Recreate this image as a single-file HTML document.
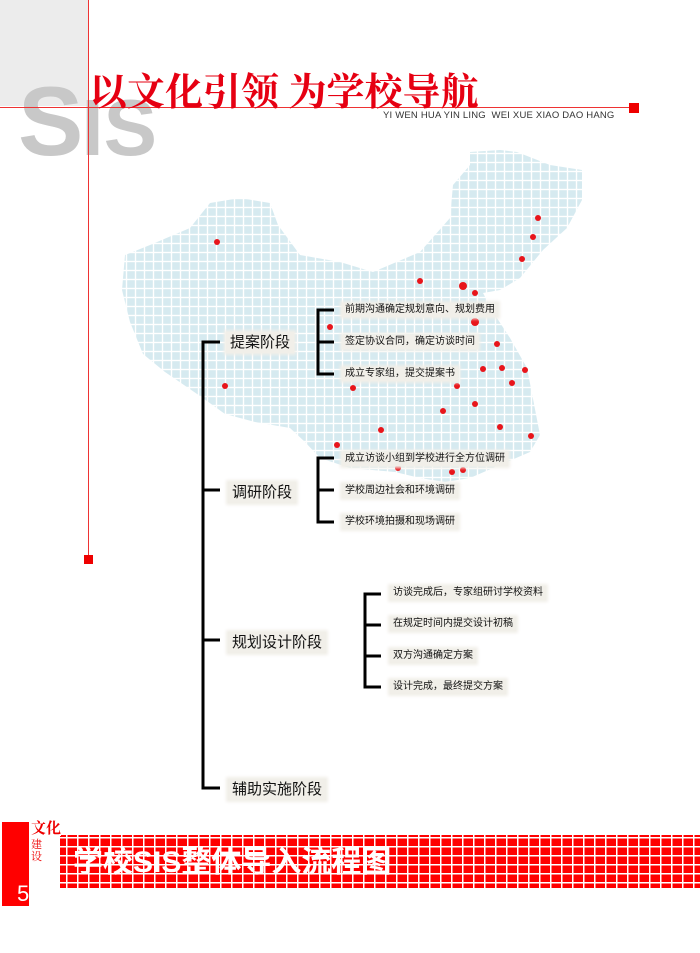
<!DOCTYPE html>
<html><head><meta charset="utf-8"><style>
body{margin:0;width:700px;height:953px;overflow:hidden;background:#fff;position:relative;font-family:"Liberation Sans","Noto Sans CJK SC",sans-serif}
.a{position:absolute}
.lb{position:absolute;background:#f1efe9;box-shadow:0 0 3px 2px #f1efe9;color:#111;white-space:nowrap;line-height:1}
.p{font-size:15px;padding:3px 4px}
.s{font-size:10px;padding:2px 3px}
</style></head><body>
<div class="a" style="left:0;top:0;width:88px;height:106px;background:#ececec"></div>
<div class="a" style="left:18px;top:66px;font:bold 98px 'Liberation Sans',sans-serif;color:#c8c8c8;letter-spacing:-2px;line-height:110px">S<span style="font-size:80px;letter-spacing:0">IS</span></div>
<div class="a" style="left:88px;top:0;width:1px;height:560px;background:#e33"></div>
<div class="a" style="left:84px;top:555px;width:9px;height:9px;background:#e00"></div>
<div class="a" style="left:0;top:107px;width:632px;height:1px;background:#e33"></div>
<div class="a" style="left:629px;top:103px;width:10px;height:10px;background:#e00"></div>
<div class="a" style="left:89px;top:68px;font:bold 38px 'Noto Serif CJK SC',serif;color:#e60012;letter-spacing:0px;line-height:42px;white-space:nowrap">以文化引领&nbsp;为学校导航</div>
<div class="a" style="left:383px;top:110px;font-size:9.5px;color:#333;letter-spacing:0.2px;white-space:nowrap">YI WEN HUA YIN LING &nbsp;WEI XUE XIAO DAO HANG</div>

<svg class="a" style="left:0;top:0" width="700" height="953">
<defs><pattern id="g" width="9" height="9" patternUnits="userSpaceOnUse"><rect width="9" height="9" fill="#fff"/><rect x="1.2" y="1.2" width="7.6" height="7.6" fill="#d6eaf0"/></pattern>
<pattern id="r" width="11" height="9" patternUnits="userSpaceOnUse"><rect width="11" height="9" fill="#fff"/><rect x="1.5" y="1.5" width="9.5" height="7.5" fill="#f00"/></pattern></defs>
<path fill="url(#g)" d="M125,255 L150,245 L190,228 L210,203 L240,198 L270,203 L278,225 L300,255 L340,262 L373,272 L420,252 L450,218 L453,185 L470,165 L470,152 L500,150 L517,152 L550,165 L582,170 L582,200 L567,228 L543,250 L520,278 L500,290 L483,293 L493,312 L510,338 L527,368 L540,435 L530,452 L500,465 L470,478 L445,482 L420,478 L395,472 L350,468 L320,458 L305,442 L290,428 L255,422 L225,414 L200,396 L165,372 L143,354 L130,322 L122,290 Z"/>
<g fill="#e8151b">
<circle cx="217" cy="242" r="3"/><circle cx="538" cy="218" r="3"/><circle cx="533" cy="237" r="3"/><circle cx="522" cy="259" r="3"/><circle cx="420" cy="281" r="3"/><circle cx="463" cy="286" r="4"/><circle cx="475" cy="293" r="3"/><circle cx="475" cy="322" r="4"/><circle cx="330" cy="327" r="3"/><circle cx="497" cy="344" r="3"/><circle cx="483" cy="369" r="3"/><circle cx="502" cy="368" r="3"/><circle cx="525" cy="370" r="3"/><circle cx="512" cy="383" r="3"/><circle cx="457" cy="386" r="3"/><circle cx="353" cy="388" r="3"/><circle cx="225" cy="386" r="3"/><circle cx="443" cy="411" r="3"/><circle cx="475" cy="404" r="3"/><circle cx="381" cy="430" r="3"/><circle cx="500" cy="427" r="3"/><circle cx="531" cy="436" r="3"/><circle cx="337" cy="445" r="3"/><circle cx="398" cy="468" r="3"/><circle cx="452" cy="472" r="3"/><circle cx="463" cy="470" r="3"/>
</g>
<g stroke="#000" stroke-width="3" fill="none">
<path d="M220,342 H203 V788 H220 M203,490 H220 M203,640 H220"/>
<path d="M334,310 H318 V374 H334 M318,342 H334"/>
<path d="M334,458 H318 V522 H334 M318,490 H334"/>
<path d="M381,594 H365 V687 H381 M365,625 H381 M365,656 H381"/>
</g>
<rect x="60" y="835" width="640" height="53" fill="url(#r)"/>
<rect x="2" y="822" width="27" height="84" fill="#f00"/>
</svg>

<div class="lb p" style="left:226px;top:332px">提案阶段</div>
<div class="lb p" style="left:228px;top:482px">调研阶段</div>
<div class="lb p" style="left:228px;top:632px">规划设计阶段</div>
<div class="lb p" style="left:228px;top:779px">辅助实施阶段</div>
<div class="lb s" style="left:342px;top:303px">前期沟通确定规划意向、规划费用</div>
<div class="lb s" style="left:342px;top:335px">签定协议合同，确定访谈时间</div>
<div class="lb s" style="left:342px;top:367px">成立专家组，提交提案书</div>
<div class="lb s" style="left:342px;top:452px">成立访谈小组到学校进行全方位调研</div>
<div class="lb s" style="left:342px;top:484px">学校周边社会和环境调研</div>
<div class="lb s" style="left:342px;top:515px">学校环境拍摄和现场调研</div>
<div class="lb s" style="left:390px;top:586px">访谈完成后，专家组研讨学校资料</div>
<div class="lb s" style="left:390px;top:617px">在规定时间内提交设计初稿</div>
<div class="lb s" style="left:390px;top:649px">双方沟通确定方案</div>
<div class="lb s" style="left:390px;top:680px">设计完成，最终提交方案</div>

<div class="a" style="left:31px;top:820px;font:bold 15px 'Noto Serif CJK SC',serif;color:#e00;line-height:16px;background:#fff">文化</div>
<div class="a" style="left:31px;top:838px;font:11px 'Noto Serif CJK SC',serif;color:#e00;line-height:12px;width:11px;background:#fff">建设</div>
<div class="a" style="left:17px;top:882px;font-size:22px;color:#fff;line-height:24px">5</div>
<div class="a" style="left:73px;top:845px;font:bold 30px 'Liberation Sans','Noto Sans CJK SC',sans-serif;color:#fff;line-height:36px;white-space:nowrap">学校SIS整体导入流程图</div>
</body></html>
